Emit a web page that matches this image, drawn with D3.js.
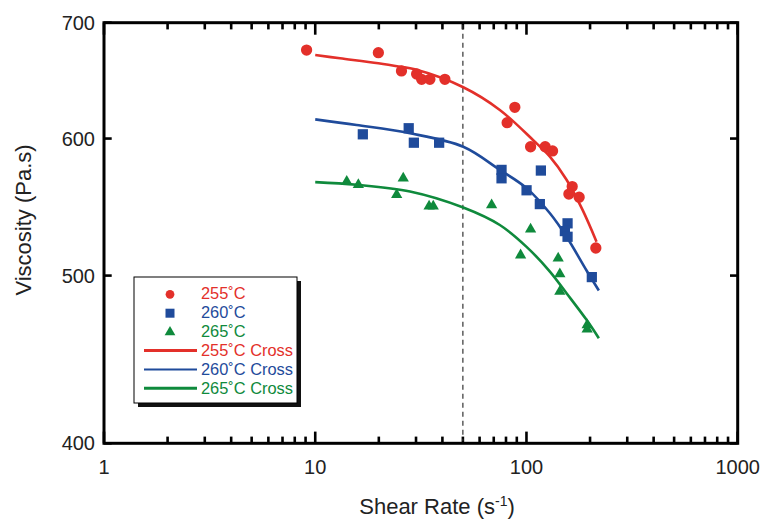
<!DOCTYPE html>
<html>
<head>
<meta charset="utf-8">
<script src="https://d3js.org/d3.v7.min.js"></script>
<style>
  body { margin: 0; background: #fff; }
  svg { font-family: "Liberation Sans", Arial, Helvetica, sans-serif; }
  .tick-label { font-size: 20px; fill: #222; }
  .axis-title { font-size: 22px; fill: #222; }
  .legend-text { font-size: 16.4px; }
</style>
</head>
<body>
<svg id="chart" width="763" height="519"></svg>
<script>
// ---- data ----
const seriesNames = ['255˚C', '260˚C', '265˚C'];
const seriesColors = ['#e3302a', '#1f4b9b', '#0f8a3c'];

// measured points [shear rate, viscosity]
const pts255 = [[9.1, 675], [19.9, 672.6], [25.6, 656.5], [30.2, 653.8], [31.9, 649.2], [34.9, 649.2],
  [41.1, 649.2], [81.0, 612.8], [88.1, 625.5], [104.6, 593.5], [122.6, 593.5], [132.9, 590.2],
  [164.6, 562.9], [158.8, 557.3], [177.6, 555.0], [213.0, 518.7]];
const pts260 = [[16.8, 603.4], [27.7, 608.3], [29.3, 596.7], [38.6, 596.7], [76.2, 575.5], [76.2, 569.1],
  [117.0, 575.0], [100.1, 560.1], [115.7, 549.9], [156.5, 536.0], [152.0, 530.5], [156.5, 526.5],
  [203.9, 499.0]];
const pts265 = [[14.1, 566.7], [16.0, 564.2], [26.1, 569.1], [24.3, 556.8], [34.6, 548.3], [36.2, 548.3],
  [68.4, 549.3], [104.6, 531.8], [93.8, 513.8], [141.3, 511.6], [143.9, 501.0], [143.9, 489.5],
  [193.8, 468.2], [193.8, 465.5]];

// Cross model fit curves
const fit255 = [[10, 670.5], [13.1, 667.6], [19.9, 663.2], [25.2, 660.2], [29.6, 657.9], [50.2, 642.4],
  [74.8, 623.3], [107.6, 598.7], [129.1, 585.7], [154.8, 568.0], [184.3, 545.7], [214.6, 523.1]];
const fit260 = [[10, 615.5], [15.7, 610.9], [28.1, 604.2], [50.2, 593.5], [74.8, 575.5], [100.1, 561.7],
  [129.1, 543.2], [154.8, 526.5], [192.5, 503.4], [220.1, 490.2]];
const fit265 = [[10, 566.2], [15.7, 564.2], [28.1, 559.2], [50.2, 547.4], [74.8, 534.8], [100.1, 519.5],
  [129.1, 502.7], [154.8, 488.4], [192.5, 471.4], [220.1, 460.0]];

const xTicks = [1, 10, 100, 1000];
const yTicks = [400, 500, 600, 700];
const markerLine = 50;   // dashed reference line at 50 s^-1

const svg = d3.select('#chart');
const margin = { top: 22.7, right: 25.3, bottom: 75.7, left: 104 };
const W = 763 - margin.left - margin.right;
const H = 519 - margin.top - margin.bottom;

const x = d3.scaleLog().domain([1, 1000]).range([0, W]);
const y = d3.scaleLog().domain([400, 700]).range([H, 0]);

const g = svg.append('g').attr('transform', `translate(${margin.left},${margin.top})`);

// minor ticks for x (2..9 in each decade)
const xMinor = [];
[1, 10, 100].forEach(d => { for (let k = 2; k <= 9; k++) xMinor.push(d * k); });

// ticks pointing inward, bottom and top
const tickG = g.append('g').attr('stroke', '#000').attr('stroke-width', 2.6);
xMinor.forEach(v => {
  tickG.append('line').attr('x1', x(v)).attr('x2', x(v)).attr('y1', H).attr('y2', H - 6.7);
  tickG.append('line').attr('x1', x(v)).attr('x2', x(v)).attr('y1', 0).attr('y2', 6.7);
});
xTicks.forEach(v => {
  tickG.append('line').attr('x1', x(v)).attr('x2', x(v)).attr('y1', H).attr('y2', H - 11.7);
  tickG.append('line').attr('x1', x(v)).attr('x2', x(v)).attr('y1', 0).attr('y2', 12);
});
yTicks.forEach(v => {
  tickG.append('line').attr('x1', 0).attr('x2', 7.7).attr('y1', y(v)).attr('y2', y(v));
  tickG.append('line').attr('x1', W).attr('x2', W - 7.7).attr('y1', y(v)).attr('y2', y(v));
});

// frame
g.append('rect').attr('x', 0).attr('y', 0).attr('width', W).attr('height', H)
  .attr('fill', 'none').attr('stroke', '#000').attr('stroke-width', 3);

// tick labels
g.selectAll('.xl').data(xTicks).join('text')
  .attr('class', 'tick-label')
  .attr('x', d => x(d)).attr('y', H + 31)
  .attr('text-anchor', 'middle')
  .text(d => d);
g.selectAll('.yl').data(yTicks).join('text')
  .attr('class', 'tick-label')
  .attr('x', -9).attr('y', d => y(d)).attr('dy', '0.36em')
  .attr('text-anchor', 'end')
  .text(d => d);

// axis titles
const xt = svg.append('text').attr('class', 'axis-title')
  .attr('x', 437).attr('y', 514).attr('text-anchor', 'middle');
xt.append('tspan').text('Shear Rate (s');
xt.append('tspan').attr('font-size', '14px').attr('dy', '-8').text('-1');
xt.append('tspan').attr('dy', '8').text(')');

svg.append('text').attr('class', 'axis-title')
  .attr('transform', 'translate(31,220) rotate(-90)')
  .attr('text-anchor', 'middle')
  .text('Viscosity (Pa.s)');

// dashed line
g.append('line')
  .attr('x1', x(markerLine)).attr('x2', x(markerLine))
  .attr('y1', 2).attr('y2', H - 2)
  .attr('stroke', '#333').attr('stroke-width', 1.2)
  .attr('stroke-dasharray', '5,4');

// fit curves
const line = d3.line().x(d => x(d[0])).y(d => y(d[1])).curve(d3.curveCatmullRom);
[fit255, fit260, fit265].forEach((f, i) => {
  g.append('path').datum(f)
    .attr('d', line)
    .attr('fill', 'none')
    .attr('stroke', seriesColors[i])
    .attr('stroke-width', 2.6);
});

// markers
const shapes = [d3.symbolCircle, d3.symbolSquare, d3.symbolTriangle];
const sizes = [100, 105, 55];
[pts255, pts260, pts265].forEach((p, i) => {
  g.selectAll('.m' + i).data(p).join('path')
    .attr('d', d3.symbol().type(shapes[i]).size(sizes[i]))
    .attr('transform', d => `translate(${x(d[0])},${y(d[1])})`)
    .attr('fill', seriesColors[i]);
});

// legend
const lg = svg.append('g').attr('transform', 'translate(134,277)');
lg.append('rect').attr('x', 4).attr('y', 4).attr('width', 163).attr('height', 126).attr('fill', '#111');
lg.append('rect').attr('x', 0).attr('y', 0).attr('width', 163).attr('height', 126)
  .attr('fill', '#fff').attr('stroke', '#000').attr('stroke-width', 1);

const rowY = i => 22.3 + i * 18.9;
seriesNames.forEach((name, i) => {
  lg.append('path')
    .attr('d', d3.symbol().type(shapes[i]).size([60, 81, 50][i]))
    .attr('transform', `translate(36,${rowY(i) - 5})`)
    .attr('fill', seriesColors[i]);
  lg.append('text').attr('class', 'legend-text')
    .attr('x', 67).attr('y', rowY(i))
    .attr('fill', seriesColors[i]).text(name);
});
seriesNames.forEach((name, i) => {
  const yy = rowY(i + 3) - 5.5;
  lg.append('line').attr('x1', 10).attr('x2', 63).attr('y1', yy).attr('y2', yy)
    .attr('stroke', seriesColors[i]).attr('stroke-width', [3, 2, 3][i]);
  lg.append('text').attr('class', 'legend-text')
    .attr('x', 67).attr('y', rowY(i + 3))
    .attr('fill', seriesColors[i]).text(name + ' Cross');
});
</script>
</body>
</html>
